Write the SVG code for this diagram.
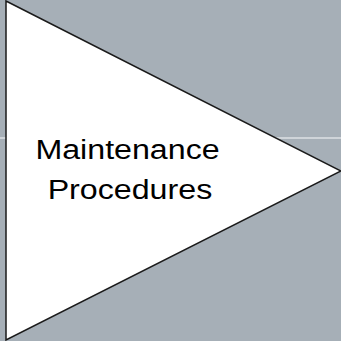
<svg xmlns="http://www.w3.org/2000/svg" width="341" height="341" viewBox="0 0 341 341">
<style>
.lbl{font-family:"Liberation Sans",Arial,sans-serif;font-size:28px;fill:#000;text-anchor:middle}
</style>
<rect width="341" height="341" fill="#a6afb7"/>
<line x1="0" y1="138" x2="341" y2="138" stroke="#dde1e4" stroke-width="1.5"/>
<g id="node-procedures">
<polygon points="6,1 341,171 6,340" fill="#ffffff" stroke="#1a1a1a" stroke-width="1.5"/>
<g transform="scale(1.15,1)">
<text class="lbl" x="110.9" y="159">Maintenance</text>
<text class="lbl" x="113" y="199">Procedures</text>
</g>
</g>
</svg>
